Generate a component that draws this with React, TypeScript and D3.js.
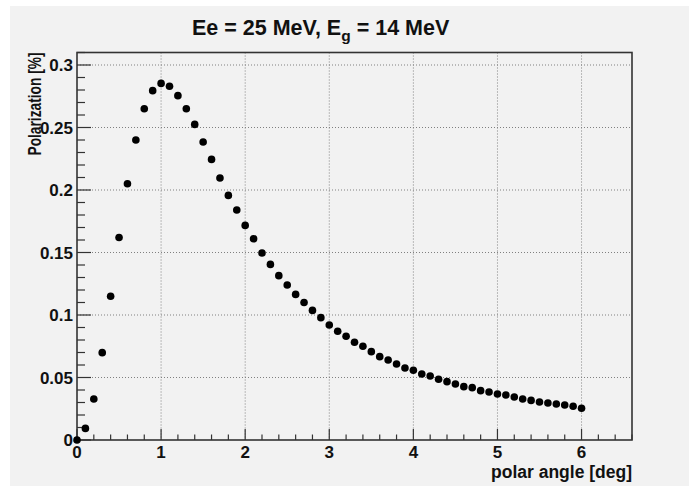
// Polarization vs polar angle - ROOT-style scatter drawn with D3

import { useEffect, useRef } from "react";
import * as d3 from "d3";

const angles = [
  0, 0.1, 0.2, 0.3, 0.4, 0.5, 0.6, 0.7, 0.8, 0.9,
  1.0, 1.1, 1.2, 1.3, 1.4, 1.5, 1.6, 1.7, 1.8, 1.9,
  2.0, 2.1, 2.2, 2.3, 2.4, 2.5, 2.6, 2.7, 2.8, 2.9,
  3.0, 3.1, 3.2, 3.3, 3.4, 3.5, 3.6, 3.7, 3.8, 3.9,
  4.0, 4.1, 4.2, 4.3, 4.4, 4.5, 4.6, 4.7, 4.8, 4.9,
  5.0, 5.1, 5.2, 5.3, 5.4, 5.5, 5.6, 5.7, 5.8, 5.9,
  6.0,
];

const polarization = [
  0, 0.0093, 0.0328, 0.0699, 0.115, 0.162, 0.205, 0.24, 0.265, 0.2795,
  0.2853, 0.283, 0.2755, 0.265, 0.2525, 0.2384, 0.2245, 0.2096, 0.1957, 0.184,
  0.1717, 0.161, 0.1496, 0.1405, 0.1315, 0.124, 0.1165, 0.11, 0.1037, 0.0979,
  0.092, 0.087, 0.083, 0.0782, 0.075, 0.0707, 0.0667, 0.064, 0.0608, 0.0576,
  0.0558, 0.0528, 0.0512, 0.0486, 0.0467, 0.0448, 0.0427, 0.0419, 0.0395, 0.0384,
  0.0368, 0.036, 0.0344, 0.0328, 0.0317, 0.0304, 0.0296, 0.0288, 0.028, 0.027,
  0.0254,
];

const xMajorTicks = [0, 1, 2, 3, 4, 5, 6];
const yMajorTicks = [0, 0.05, 0.1, 0.15, 0.2, 0.25, 0.3];
const yTickLabels = ["0", "0.05", "0.1", "0.15", "0.2", "0.25", "0.3"];

const xDomain = [0, 6.6];
const yDomain = [0, 0.31];

export default function App() {
  const svgRef = useRef<SVGSVGElement>(null);

  useEffect(() => {
    if (!svgRef.current) return;
    const svg = d3.select(svgRef.current);
    svg.selectAll("*").remove();

    const width = 689;
    const height = 487;
    const frame = { left: 77, right: 632, top: 52.5, bottom: 440 };
    const font = "'Liberation Sans', Arial, Helvetica, sans-serif";
    const ink = "#333";

    // canvas
    svg
      .append("rect")
      .attr("x", 10)
      .attr("y", 6)
      .attr("width", width - 10)
      .attr("height", height - 7)
      .attr("fill", "#f2f2f2");

    const x = d3.scaleLinear().domain(xDomain).range([frame.left, frame.right]);
    const y = d3.scaleLinear().domain(yDomain).range([frame.bottom, frame.top]);

    const g = svg.append("g");

    // grid
    g.selectAll(".gx")
      .data(xMajorTicks.filter((d) => d > 0))
      .enter()
      .append("line")
      .attr("x1", (d) => x(d))
      .attr("x2", (d) => x(d))
      .attr("y1", frame.top)
      .attr("y2", frame.bottom)
      .attr("stroke", "#808080")
      .attr("stroke-width", 1)
      .attr("stroke-dasharray", "1 2");

    g.selectAll(".gy")
      .data(yMajorTicks.filter((d) => d > 0))
      .enter()
      .append("line")
      .attr("x1", frame.left)
      .attr("x2", frame.right)
      .attr("y1", (d) => y(d))
      .attr("y2", (d) => y(d))
      .attr("stroke", "#808080")
      .attr("stroke-width", 1)
      .attr("stroke-dasharray", "1 2");

    // ticks (drawn inside the frame, ROOT style)
    const xMinor = d3.range(0, 6.6001, 0.2).filter(
      (v) => Math.abs(v - Math.round(v)) > 1e-6
    );
    const yMinor = d3.range(0, 0.3101, 0.01).filter(
      (v) => Math.abs(v * 20 - Math.round(v * 20)) > 1e-6
    );

    g.selectAll(".xt")
      .data(xMajorTicks)
      .enter()
      .append("line")
      .attr("x1", (d) => x(d))
      .attr("x2", (d) => x(d))
      .attr("y1", frame.bottom)
      .attr("y2", frame.bottom - 11)
      .attr("stroke", ink)
      .attr("stroke-width", 1.2);

    g.selectAll(".xm")
      .data(xMinor)
      .enter()
      .append("line")
      .attr("x1", (d) => x(d))
      .attr("x2", (d) => x(d))
      .attr("y1", frame.bottom)
      .attr("y2", frame.bottom - 5.5)
      .attr("stroke", ink)
      .attr("stroke-width", 1.2);

    g.selectAll(".yt")
      .data(yMajorTicks)
      .enter()
      .append("line")
      .attr("x1", frame.left)
      .attr("x2", frame.left + 14)
      .attr("y1", (d) => y(d))
      .attr("y2", (d) => y(d))
      .attr("stroke", ink)
      .attr("stroke-width", 1.2);

    g.selectAll(".ym")
      .data(yMinor)
      .enter()
      .append("line")
      .attr("x1", frame.left)
      .attr("x2", frame.left + 8)
      .attr("y1", (d) => y(d))
      .attr("y2", (d) => y(d))
      .attr("stroke", ink)
      .attr("stroke-width", 1.2);

    // frame
    g.append("rect")
      .attr("x", frame.left)
      .attr("y", frame.top)
      .attr("width", frame.right - frame.left)
      .attr("height", frame.bottom - frame.top)
      .attr("fill", "none")
      .attr("stroke", ink)
      .attr("stroke-width", 1.6);

    // tick labels
    g.selectAll(".xl")
      .data(xMajorTicks)
      .enter()
      .append("text")
      .attr("x", (d) => x(d))
      .attr("y", 458)
      .attr("text-anchor", "middle")
      .attr("font-family", font)
      .attr("font-weight", "bold")
      .attr("font-size", 17)
      .attr("fill", "#111")
      .text((d) => String(d));

    g.selectAll(".yl")
      .data(yMajorTicks)
      .enter()
      .append("text")
      .attr("x", 73)
      .attr("y", (d) => y(d))
      .attr("dy", "0.36em")
      .attr("text-anchor", "end")
      .attr("font-family", font)
      .attr("font-weight", "bold")
      .attr("font-size", 17)
      .attr("fill", "#111")
      .text((d, i) => yTickLabels[i]);

    // axis titles
    g.append("text")
      .attr("x", frame.right)
      .attr("y", 478)
      .attr("text-anchor", "end")
      .attr("font-family", font)
      .attr("font-weight", "bold")
      .attr("font-size", 17.5)
      .attr("fill", "#111")
      .text("polar angle [deg]");

    g.append("text")
      .attr("transform", `translate(41, ${frame.top}) rotate(-90)`)
      .attr("text-anchor", "end")
      .attr("font-family", font)
      .attr("font-weight", "bold")
      .attr("font-size", 17.5)
      .attr("fill", "#111")
      .attr("textLength", 103)
      .attr("lengthAdjust", "spacingAndGlyphs")
      .text("Polarization [%]");

    // title
    const title = g
      .append("text")
      .attr("x", 192)
      .attr("y", 35)
      .attr("font-family", font)
      .attr("font-weight", "bold")
      .attr("font-size", 21.5)
      .attr("fill", "#111");
    title.append("tspan").text("Ee = 25 MeV, E");
    title.append("tspan").attr("dy", 6).attr("font-size", 15.5).text("g");
    title.append("tspan").attr("dy", -6).text(" = 14 MeV");

    // markers
    g.selectAll(".pt")
      .data(angles)
      .enter()
      .append("circle")
      .attr("cx", (d) => x(d))
      .attr("cy", (d, i) => y(polarization[i]))
      .attr("r", 3.8)
      .attr("fill", "#000");
  }, []);

  return (
    <svg
      ref={svgRef}
      width={689}
      height={487}
      style={{ position: "fixed", left: 0, top: 0, background: "#fff" }}
    />
  );
}
